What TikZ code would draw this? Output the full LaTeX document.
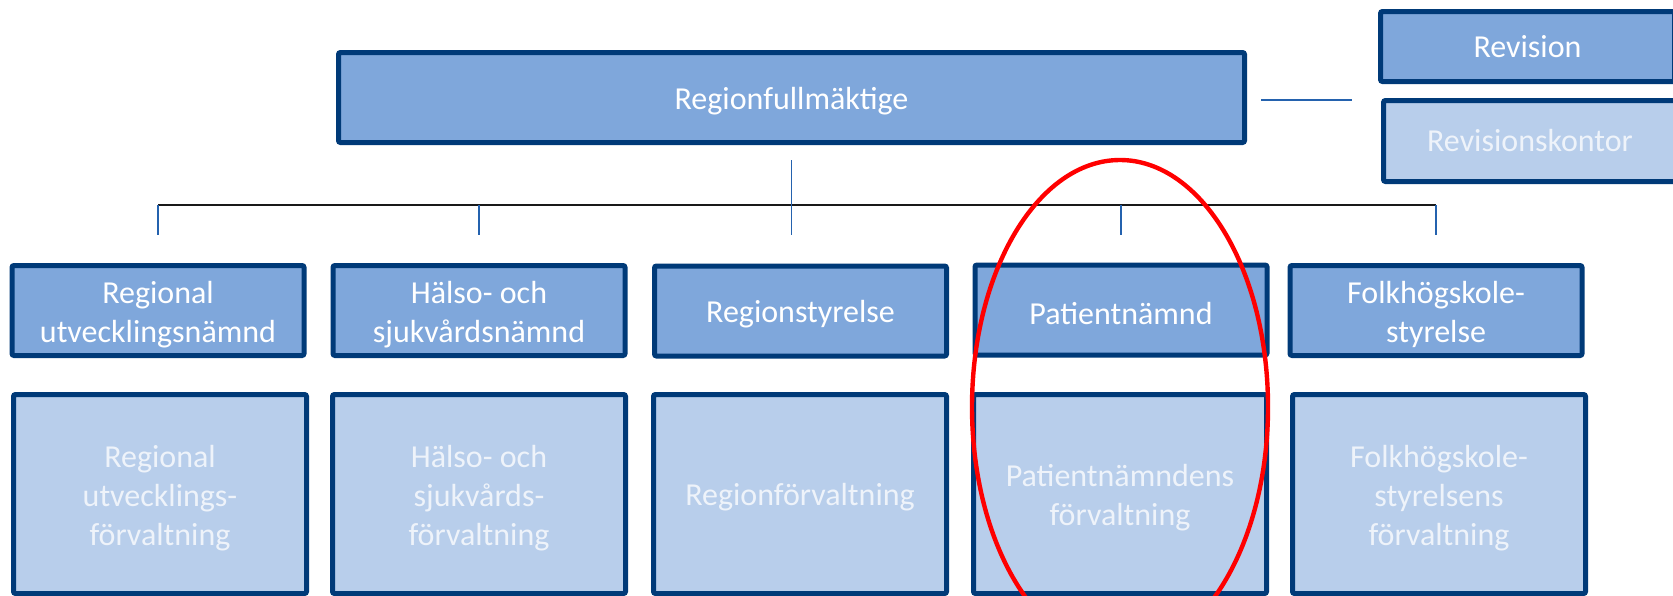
\documentclass[tikz,border=0pt]{standalone}
\usepackage{fontspec}
\setmainfont{Carlito}
\definecolor{navy}{HTML}{003A78}
\definecolor{boardfill}{HTML}{7FA7DB}
\definecolor{officefill}{HTML}{B8CEEB}
\definecolor{linkblue}{HTML}{2462AE}
\definecolor{officetext}{HTML}{EEF3FA}
\newcommand\up{\rule{0pt}{15pt}}

\begin{document}
\begin{tikzpicture}[x=0.5pt, y=-0.5pt,
  board/.style={draw=navy, line width=2.5pt, fill=boardfill, text=white, rounded corners=1pt, inner sep=0pt, align=center, font=\fontsize{16}{19.5}\selectfont, minimum width=146pt, minimum height=45pt},
  office/.style={board, fill=officefill, text=officetext, minimum width=146.5pt, minimum height=99.5pt},
  dropped/.style={execute at begin node={\rule{0pt}{14.5pt}}},
  link/.style={draw=linkblue, line width=0.8pt},
  bus/.style={draw=black!90, line width=0.9pt}]

\useasboundingbox (0,0) rectangle (1673,595);

\node [board, dropped, minimum width=453pt] (rf) at (791.5,97.5) {Regionfullmäktige};
\node [board, minimum width=147pt, minimum height=35pt] (rev) at (1527.5,46.5) {Revision};
\node [office, minimum height=40.5pt] (revk) at (1530,141) {Revisionskontor};

\node [board] (n1) at (158,310.5) {\up Regional\\utvecklingsnämnd};
\node [board] (n2) at (479,310.5) {\up Hälso- och\\sjukvårdsnämnd};
\node [board, dropped] (n3) at (800.5,311) {Regionstyrelse};
\node [board, dropped] (n4) at (1121,310) {Patientnämnd};
\node [board] (n5) at (1436,310.5) {\up Folkhögskole-\\styrelse};

\node [office] (f1) at (160,494) {\up Regional\\utvecklings-\\förvaltning};
\node [office] (f2) at (479,494) {\up Hälso- och\\sjukvårds-\\förvaltning};
\node [office, dropped] (f3) at (800,494) {Regionförvaltning};
\node [office] (f4) at (1120,494) {\up Patientnämndens\\förvaltning};
\node [office] (f5) at (1439,494) {\up Folkhögskole-\\styrelsens\\förvaltning};

\coordinate (revL) at (1261,100);
\coordinate (revR) at (1352,100);
\draw [link] (revL) -- (revR);

\coordinate (busy) at (0,205);
\draw [bus] (n1.north |- busy) -- (n5.north |- busy);
\draw [link] ([yshift=-7.5pt]rf.south) -- ([yshift=-45pt]rf.south);
\draw [link] (n1.north |- busy) -- ([yshift=14pt]n1.north);
\draw [link] (n2.north |- busy) -- ([yshift=14pt]n2.north);
\draw [link] (n4.north |- busy) -- ([yshift=14pt]n4.north);
\draw [link] (n5.north |- busy) -- ([yshift=14pt]n5.north);

\draw [red, line width=2.2pt] (1120,407) ellipse [x radius=148, y radius=247];

\end{tikzpicture}
\end{document}
